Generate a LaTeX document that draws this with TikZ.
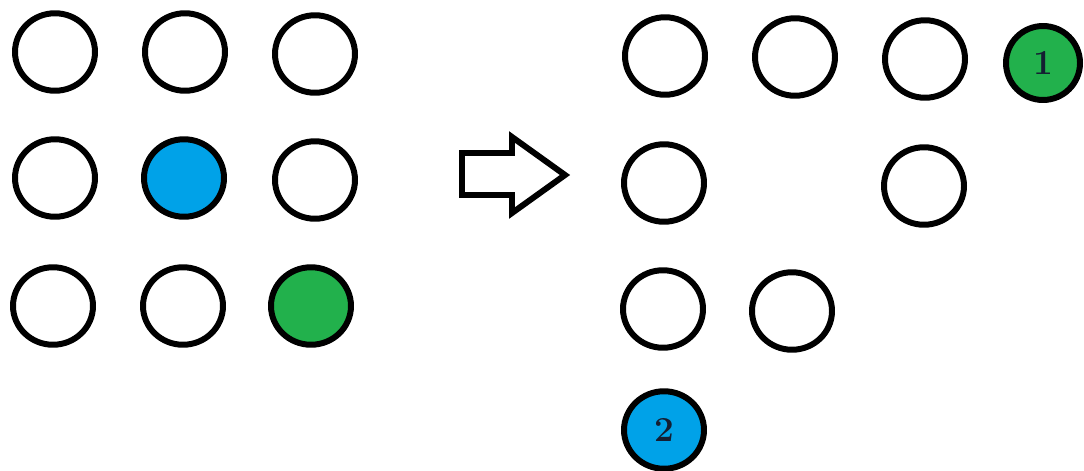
\documentclass[tikz,border=0pt]{standalone}
\usepackage{tikz}
\usetikzlibrary{positioning, shapes.geometric}
\definecolor{dotblue}{RGB}{0,162,232}
\definecolor{dotgreen}{RGB}{34,177,76}
\definecolor{numink}{RGB}{20,30,50}
\begin{document}
\begin{tikzpicture}[x=0.02cm, y=-0.02cm,
                dot/.style={ellipse, draw, line width=3.4pt, minimum width=1.6cm, minimum height=1.55cm, inner sep=0pt},
                num/.style={font=\fontsize{20}{24}\selectfont\bfseries, text=numink},
                hollow/.style={line width=3.4pt, line join=miter}]
                \useasboundingbox (0,0) rectangle (1084,470);

                % Before
                \node[dot] (b11) at (55,52) {};
                \node[dot] (b12) at (185,52) {};
                \node[dot] (b13) at (315,54) {};
                \node[dot] (b21) at (55,178) {};
                \node[dot, fill=dotblue] (b22) at (184,178) {};
                \node[dot] (b23) at (315,180) {};
                \node[dot] (b31) at (53,306) {};
                \node[dot] (b32) at (183,306) {};
                \node[dot, fill=dotgreen] (b33) at (311,306) {};

                % Transition arrow
                \draw[hollow] (462,153) -- (512,153) -- (512,137) -- (565,175)
                    -- (512,213) -- (512,195) -- (462,195) -- cycle;

                % After
                \node[dot] (a11) at (665,56) {};
                \node[dot] (a12) at (795,57) {};
                \node[dot] (a13) at (925,59) {};
                \node[dot, fill=dotgreen, minimum width=1.48cm, minimum height=1.48cm] (a14) at (1043,63) {};
                \node[dot] (a21) at (664,183) {};
                \node[dot] (a23) at (924,186) {};
                \node[dot] (a31) at (663,309) {};
                \node[dot] (a32) at (792,311) {};
                \node[dot, fill=dotblue] (a41) at (664,430) {};

                % Labels
                \node[num] at (a14) {1};
                \node[num] at (a41) {2};
            \end{tikzpicture}
\end{document}
